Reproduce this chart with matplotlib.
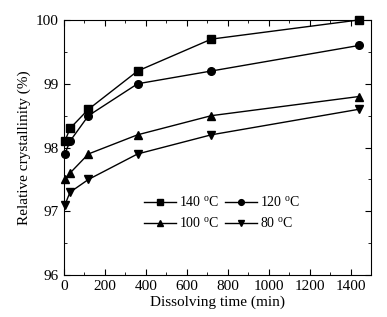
import matplotlib
matplotlib.use('agg')
import matplotlib.pyplot as plt
from matplotlib.ticker import MultipleLocator

plt.rcParams['font.family'] = 'Liberation Serif'
plt.rcParams['mathtext.fontset'] = 'custom'
plt.rcParams['mathtext.rm'] = 'Liberation Serif'

# dissolving time (min)
time_min = [5, 30, 120, 360, 720, 1440]
# relative crystallinity (%)
cryst_140 = [98.1, 98.3, 98.6, 99.2, 99.7, 100.0]
cryst_120 = [97.9, 98.1, 98.5, 99.0, 99.2, 99.6]
cryst_100 = [97.5, 97.6, 97.9, 98.2, 98.5, 98.8]
cryst_80 = [97.1, 97.3, 97.5, 97.9, 98.2, 98.6]

fig = plt.figure(figsize=(3.87, 3.17), dpi=100)
ax = fig.add_axes([0.165, 0.132, 0.794, 0.805])

kw = dict(color='k', lw=1.0, ms=5.5, clip_on=False)
l140, = ax.plot(time_min, cryst_140, marker='s', label=r'140 $^{\mathrm{o}}$C', **kw)
l120, = ax.plot(time_min, cryst_120, marker='o', label=r'120 $^{\mathrm{o}}$C', **kw)
l100, = ax.plot(time_min, cryst_100, marker='^', label=r'100 $^{\mathrm{o}}$C', **kw)
l80, = ax.plot(time_min, cryst_80, marker='v', label=r'80 $^{\mathrm{o}}$C', **kw)

ax.set_xlim(0, 1500)
ax.set_ylim(96, 100)
ax.xaxis.set_major_locator(MultipleLocator(200))
ax.xaxis.set_minor_locator(MultipleLocator(100))
ax.yaxis.set_major_locator(MultipleLocator(1))
ax.yaxis.set_minor_locator(MultipleLocator(0.5))
ax.tick_params(which='both', direction='in', top=True, right=True, labelsize=11)
ax.tick_params(which='major', length=4)
ax.tick_params(which='minor', length=2.5)

ax.set_xlabel('Dissolving time (min)', fontsize=11, labelpad=2)
ax.set_ylabel('Relative crystallinity (%)', fontsize=11, labelpad=4)

ax.legend([l140, l100, l120, l80],
          [l140.get_label(), l100.get_label(), l120.get_label(), l80.get_label()],
          ncol=2, frameon=False, fontsize=10, loc='center', bbox_to_anchor=(0.515, 0.243),
          handlelength=2.3, columnspacing=0.4, handletextpad=0.25, labelspacing=0.5,
          markerscale=0.75)

fig.savefig('out.png', dpi=100)
